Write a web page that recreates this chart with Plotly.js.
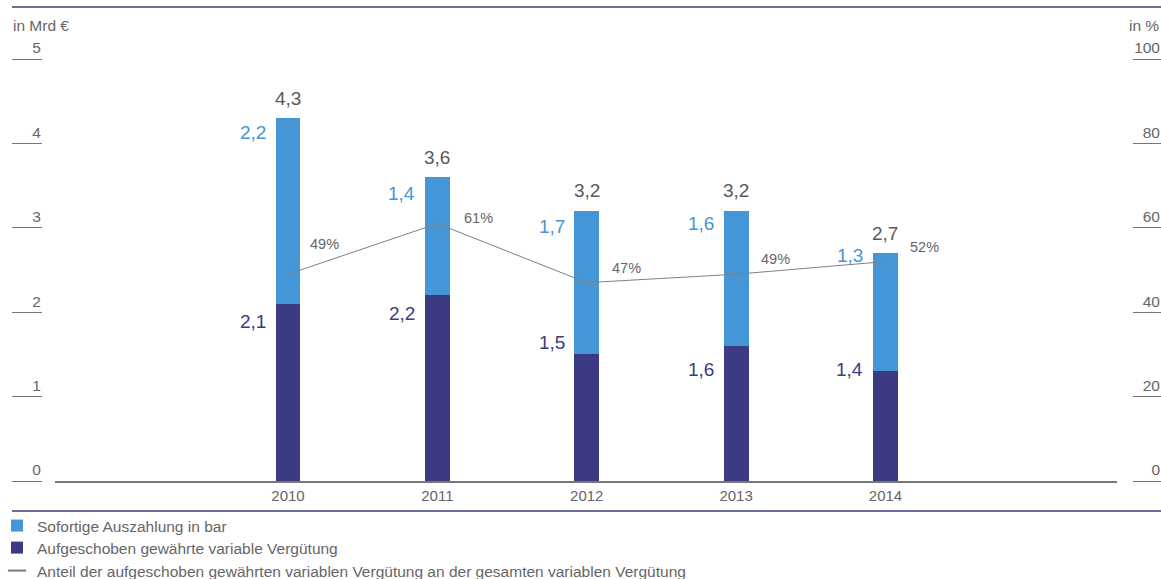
<!DOCTYPE html>
<html>
<head>
<meta charset="utf-8">
<script src="https://cdn.plot.ly/plotly-3.0.1.min.js"></script>
<style>html,body{margin:0;padding:0;background:#fff;}#chart{width:1161px;height:579px;}</style>
</head>
<body>
<div id="chart"></div>
<script>
// ---- data ----
const years = ['2010', '2011', '2012', '2013', '2014'];
const deferred = [2.1, 2.2, 1.5, 1.6, 1.3];      // drawn height, in Mrd €
const immediate = [2.2, 1.4, 1.7, 1.6, 1.4];     // drawn height, in Mrd €
const deferredLabels = ['2,1', '2,2', '1,5', '1,6', '1,4'];
const immediateLabels = ['2,2', '1,4', '1,7', '1,6', '1,3'];
const totalLabels = ['4,3', '3,6', '3,2', '3,2', '2,7'];
const sharePct = [49, 61, 47, 49, 52];
const shareLabels = ['49%', '61%', '47%', '49%', '52%'];
const leftTicks = [0, 1, 2, 3, 4, 5];
const rightTicks = [0, 20, 40, 60, 80, 100];

// ---- styles ----
const W = 1161, H = 579;
const FONT = 'Liberation Sans, Arial, Helvetica, sans-serif';
const LIGHT = '#4496d6', DARK = '#3b3a82', GRAY = '#666666', NAVY = '#3b3a7e';
const px = v => v / W, py = v => (H - v) / H;

// label offsets (px)
const immShiftY = [-14, -16, -16, -13, -2];
const defShiftY = [-18, -18, 12, -24, 2];
const pctShiftX = [20, 25, 23, 23, 23];
const pctShiftY = [30, 6, 15, 15, 15];

const traces = [
  { type: 'bar', name: 'Aufgeschoben gewährte variable Vergütung', x: years, y: deferred,
    marker: { color: DARK, line: { width: 0 } }, width: 0.167, legend: 'legend2', hoverinfo: 'skip' },
  { type: 'bar', name: 'Sofortige Auszahlung in bar', x: years, y: immediate,
    marker: { color: LIGHT, line: { width: 0 } }, width: 0.167, legend: 'legend', hoverinfo: 'skip' },
  { type: 'scatter', mode: 'lines', name: 'Anteil',
    x: years, y: sharePct, yaxis: 'y2', line: { color: '#808080', width: 1 }, showlegend: false, hoverinfo: 'skip' },
  // legend entry for the line (short dash symbol as in the reference)
  { type: 'scatter', mode: 'markers', name: 'Anteil der aufgeschoben gewährten variablen Vergütung an der gesamten variablen Vergütung',
    x: [null], y: [null], yaxis: 'y2', legend: 'legend3',
    marker: { symbol: 'line-ew-open', size: 13, color: '#777', line: { color: '#777', width: 2 } }, hoverinfo: 'skip' }
];

const annotations = [];
years.forEach((yr, i) => {
  const tot = deferred[i] + immediate[i];
  annotations.push({ x: i, y: tot, xref: 'x', yref: 'y', text: totalLabels[i], showarrow: false,
    yshift: 20, font: { family: FONT, size: 19, color: '#595959' } });
  annotations.push({ x: i, y: tot, xref: 'x', yref: 'y', text: immediateLabels[i], showarrow: false,
    xanchor: 'right', xshift: -20, yshift: immShiftY[i], font: { family: FONT, size: 19, color: LIGHT } });
  annotations.push({ x: i, y: deferred[i], xref: 'x', yref: 'y', text: deferredLabels[i], showarrow: false,
    xanchor: 'right', xshift: -20, yshift: defShiftY[i], font: { family: FONT, size: 19, color: DARK } });
  annotations.push({ x: i, y: sharePct[i], xref: 'x', yref: 'y2', text: shareLabels[i], showarrow: false,
    xanchor: 'left', xshift: pctShiftX[i], yshift: pctShiftY[i], font: { family: FONT, size: 14.5, color: GRAY } });
});
annotations.push({ x: px(11), y: py(25), xref: 'paper', yref: 'paper', text: 'in Mrd €', showarrow: false,
  xanchor: 'left', yanchor: 'middle', font: { family: FONT, size: 15.5, color: GRAY } });
annotations.push({ x: 1, y: py(25), xref: 'paper', yref: 'paper', text: 'in %', showarrow: false,
  xanchor: 'right', yanchor: 'middle', font: { family: FONT, size: 15.5, color: GRAY } });

const legendBase = { orientation: 'v', xanchor: 'left', yanchor: 'middle', bgcolor: 'rgba(0,0,0,0)',
  font: { family: FONT, size: 15.5, color: GRAY }, itemwidth: 30, borderwidth: 0 };

const layout = {
  width: W, height: H,
  margin: { l: 0, r: 0, t: 0, b: 0, pad: 0, autoexpand: false },
  paper_bgcolor: '#fff', plot_bgcolor: 'rgba(0,0,0,0)',
  barmode: 'stack',
  font: { family: FONT, color: GRAY },
  xaxis: { type: 'category', domain: [px(55), px(1117)], range: [-1.56, 5.55], anchor: 'y',
    showline: true, linecolor: '#777', linewidth: 1.5, ticks: '', showgrid: false, zeroline: false,
    tickfont: { family: FONT, size: 15, color: GRAY }, fixedrange: true },
  yaxis: { domain: [py(481), py(59)], range: [0, 5], tickvals: leftTicks, anchor: 'free', position: px(42),
    showline: false, showgrid: false, zeroline: false, ticks: 'outside', ticklen: 30, tickwidth: 1, tickcolor: '#777',
    ticklabelstandoff: -32, ticklabelshift: -11, ticklabeloverflow: 'allow',
    tickfont: { family: FONT, size: 15.5, color: GRAY }, fixedrange: true },
  yaxis2: { overlaying: 'y', side: 'right', range: [0, 100], tickvals: rightTicks, anchor: 'free', position: px(1132),
    showline: false, showgrid: false, zeroline: false, ticks: 'outside', ticklen: 29, tickwidth: 1, tickcolor: '#777',
    ticklabelposition: 'inside', ticklabelstandoff: -31, ticklabelshift: -11, ticklabeloverflow: 'allow',
    tickfont: { family: FONT, size: 15.5, color: GRAY }, fixedrange: true },
  showlegend: true,
  legend: Object.assign({}, legendBase, { x: px(-3), y: py(526) }),
  legend2: Object.assign({}, legendBase, { x: px(-3), y: py(548) }),
  legend3: Object.assign({}, legendBase, { x: px(-3), y: py(571) }),
  shapes: [
    { type: 'line', xref: 'paper', yref: 'paper', x0: px(12), x1: 1, y0: py(7), y1: py(7), line: { color: NAVY, width: 1.5 } },
    { type: 'line', xref: 'paper', yref: 'paper', x0: px(12), x1: 1, y0: py(511), y1: py(511), line: { color: NAVY, width: 1.5 } }
  ],
  annotations: annotations
};

Plotly.newPlot('chart', traces, layout, { displayModeBar: false, staticPlot: true });
</script>
</body>
</html>
